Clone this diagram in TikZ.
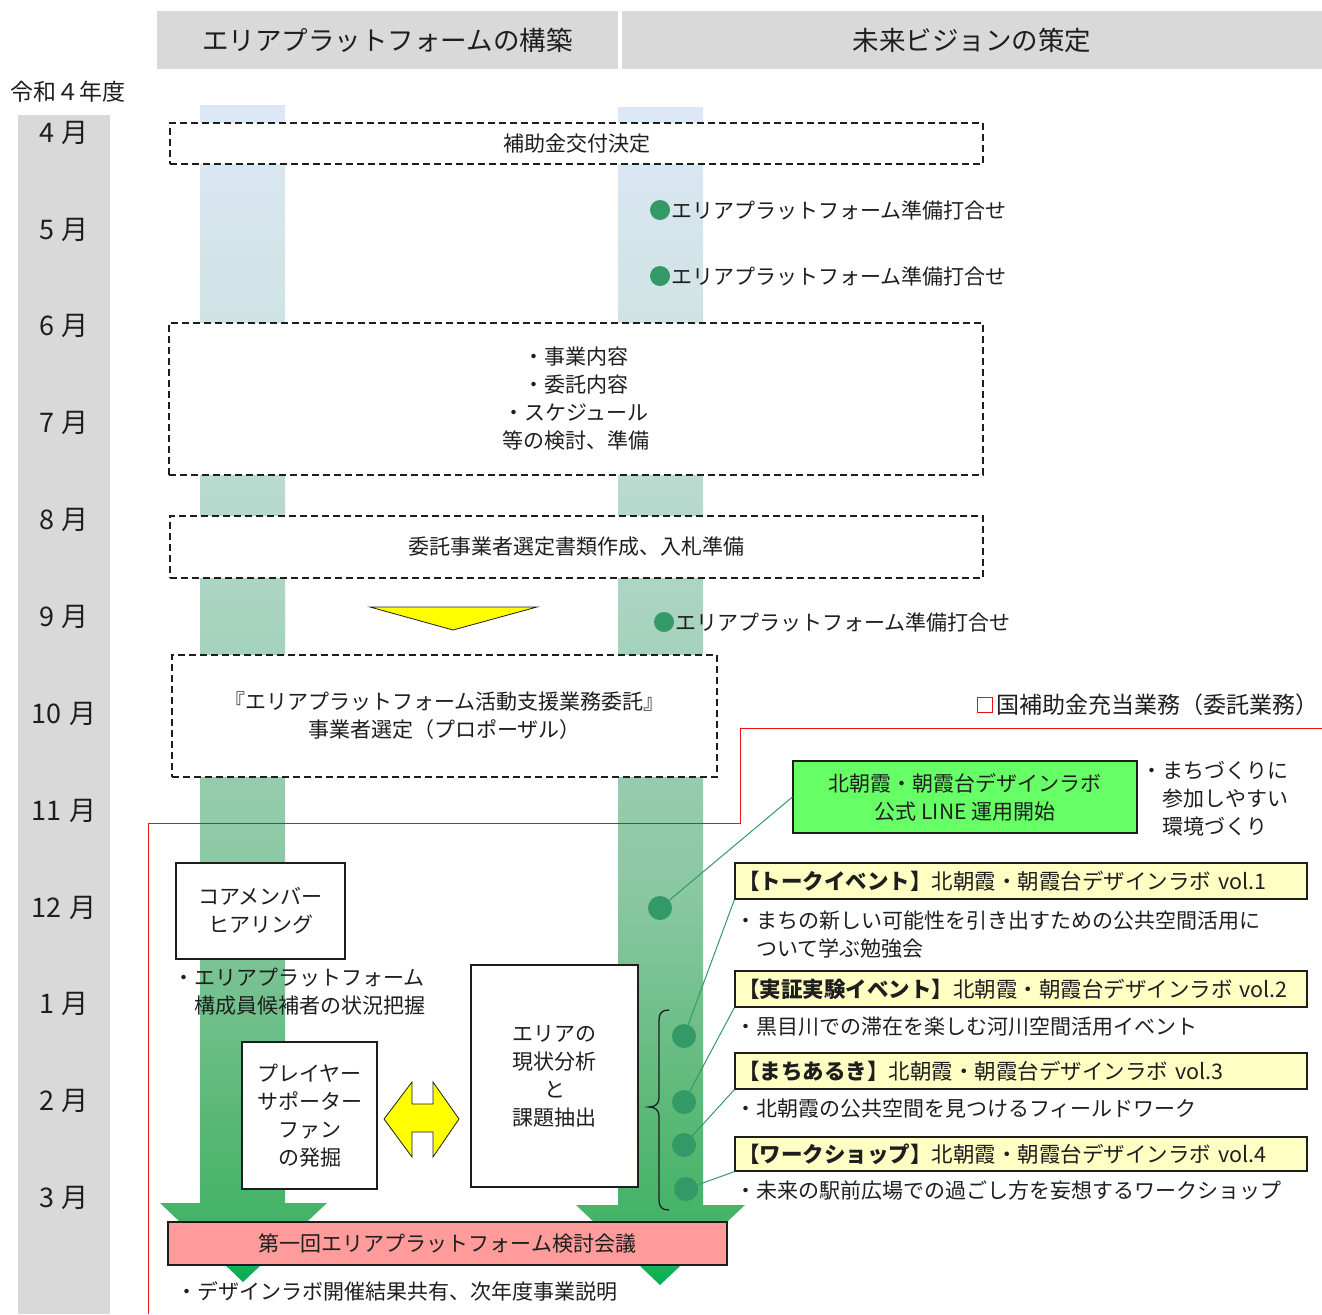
\documentclass[tikz,border=0pt]{standalone}
\usepackage{fontspec}
\setmainfont{Noto Sans CJK JP}
\definecolor{hdr}{HTML}{D9D9D9}
\definecolor{ink}{HTML}{1E1E1E}
\definecolor{cA}{HTML}{DDE8F6}
\definecolor{cB}{HTML}{CFE3E4}
\definecolor{cC}{HTML}{AFD6C6}
\definecolor{cD}{HTML}{88C7A0}
\definecolor{cE}{HTML}{5DB979}
\definecolor{cF}{HTML}{40B265}
\definecolor{cG}{HTML}{00B050}
\definecolor{dotg}{HTML}{339966}
\definecolor{lgreen}{HTML}{66FF66}
\definecolor{lyellow}{HTML}{FFFFC4}
\definecolor{pinkc}{HTML}{FF9B9B}
\definecolor{redl}{HTML}{EE1111}
\definecolor{yel}{HTML}{FFFF00}
\pgfdeclareverticalshading{colshade}{100bp}{color(0bp)=(cG); color(25bp)=(cG); color(27bp)=(cF); color(32.7bp)=(cE); color(41.2bp)=(cD); color(55.7bp)=(cC); color(65.9bp)=(cB); color(75bp)=(cA); color(100bp)=(cA)}
\begin{document}
\begin{tikzpicture}[x=1pt,y=-1pt,
  base/.style={font=\fontsize{21}{28}\selectfont, text=ink, inner sep=0pt},
  hdrbox/.style={base, fill=hdr, font=\fontsize{26.5}{30}\selectfont},
  month/.style={base, font=\fontsize{27}{30}\selectfont},
  dbox/.style={base, draw=ink, fill=white, line width=1.4pt, dash pattern=on 7pt off 4pt, align=center},
  sbox/.style={base, draw=ink, fill=white, line width=1.2pt, align=center},
  ybox/.style={base, draw=ink, fill=lyellow, line width=1.2pt, minimum width=572pt, minimum height=36pt, text width=566pt, inner xsep=3pt, align=left, font=\fontsize{21.5}{28}\selectfont},
  gdot/.style={circle, fill=dotg, inner sep=0pt},
  link/.style={dotg, line width=1pt},
  yshape/.style={fill=yel, draw=ink, line width=0.8pt, line join=miter}
]
\useasboundingbox (0,0) rectangle (1322,1314);
% month column
\fill[hdr] (18,115) rectangle (110,1314);
\node[hdrbox, minimum width=461pt, minimum height=58pt] (h1) at (387.5,40) {エリアプラットフォームの構築};
\node[hdrbox, minimum width=700pt, minimum height=58pt] (h2) at (972,40) {未来ビジョンの策定};
\node[base, font=\fontsize{23}{28}\selectfont] (year) at (68,92) {令和４年度};
\foreach \m/\yy [count=\i] in {4\hspace{7pt}月/133, 5\hspace{7pt}月/230, 6\hspace{7pt}月/326, 7\hspace{7pt}月/423, 8\hspace{7pt}月/520, 9\hspace{7pt}月/617, 10\hspace{8pt}月/714, 11\hspace{8pt}月/811, 12\hspace{8pt}月/908, 1\hspace{7pt}月/1004, 2\hspace{7pt}月/1101, 3\hspace{7pt}月/1198}
  \node[month] (m\i) at (64,\yy) {\m};
% gradient columns
\shade[shading=colshade] (200,105) -- (285,105) -- (285,1203) -- (327,1203) -- (243,1282) -- (160,1203) -- (200,1203) -- cycle;
\shade[shading=colshade] (618,107) -- (703,107) -- (703,1205) -- (745,1205) -- (660,1285) -- (576,1205) -- (618,1205) -- cycle;
% red frame
\draw[redl, line width=1pt] (1322,728) -| (740,823) -| (148,1314);
% dashed boxes
\node[dbox, minimum width=813pt, minimum height=41pt] (b1) at (576.5,143.5) {補助金交付決定};
\node[dbox, minimum width=814pt, minimum height=152pt] (b2) at (576,399) {・事業内容\\・委託内容\\・スケジュール\\等の検討、準備};
\node[dbox, minimum width=813pt, minimum height=62pt] (b3) at (576.5,547) {委託事業者選定書類作成、入札準備};
\draw[yshape] (370,607) -- (537,607) -- (453,630) -- cycle;
\node[dbox, minimum width=545pt, minimum height=122pt] (b4) at (444.5,716) {『エリアプラットフォーム活動支援業務委託』\\事業者選定（プロポーザル）};
% meetings
\node[gdot, minimum size=20pt] (p1) at (660,210) {};
\node[base, anchor=west] (t1) at (671,210) {エリアプラットフォーム準備打合せ};
\node[gdot, minimum size=20pt] (p2) at (660,276) {};
\node[base, anchor=west] (t2) at (671,276) {エリアプラットフォーム準備打合せ};
\node[gdot, minimum size=20pt] (p3) at (664,622) {};
\node[base, anchor=west] (t3) at (675,622) {エリアプラットフォーム準備打合せ};
% legend
\node[draw=redl, line width=1.5pt, minimum size=15pt, inner sep=0pt] (lg) at (985,705) {};
\node[base, font=\fontsize{23}{28}\selectfont, anchor=west] (lgt) at (996,705) {国補助金充当業務（委託業務）};
% design lab
\node[sbox, fill=lgreen, minimum width=344pt, minimum height=72pt] (g1) at (965,797) {北朝霞・朝霞台デザインラボ\\公式 LINE 運用開始};
\node[base, anchor=west, align=left] (g1t) at (1141,799) {・まちづくりに\\\phantom{・}参加しやすい\\\phantom{・}環境づくり};
\node[ybox] (y1) at (1021,881) {\textbf{【トークイベント】}北朝霞・朝霞台デザインラボ vol.1};
\node[base, anchor=west, align=left] (y1t) at (735,935) {・まちの新しい可能性を引き出すための公共空間活用に\\\phantom{・}ついて学ぶ勉強会};
\node[ybox] (y2) at (1021,989) {\textbf{【実証実験イベント】}北朝霞・朝霞台デザインラボ vol.2};
\node[base, anchor=west] (y2t) at (735,1027) {・黒目川での滞在を楽しむ河川空間活用イベント};
\node[ybox] (y3) at (1021,1071) {\textbf{【まちあるき】}北朝霞・朝霞台デザインラボ vol.3};
\node[base, anchor=west] (y3t) at (735,1109) {・北朝霞の公共空間を見つけるフィールドワーク};
\node[ybox, minimum height=34pt] (y4) at (1021,1154) {\textbf{【ワークショップ】}北朝霞・朝霞台デザインラボ vol.4};
\node[base, anchor=west] (y4t) at (735,1190) {・未来の駅前広場での過ごし方を妄想するワークショップ};
% dots on right column
\node[gdot, minimum size=24pt] (d0) at (660,908) {};
\node[gdot, minimum size=24pt] (d1) at (684,1036) {};
\node[gdot, minimum size=24pt] (d2) at (684,1102) {};
\node[gdot, minimum size=24pt] (d3) at (684,1145) {};
\node[gdot, minimum size=24pt] (d4) at (686,1189) {};
\draw[link] (d0) -- (g1.west);
\draw[link] (d1) -- (y1.south west);
\draw[link] (d2) -- (y2.south west);
\draw[link] (d3) -- (y3.south west);
\draw[link] (d4) -- (y4.south west);
% brace
\draw[ink, line width=1.3pt] (669,1010) .. controls (662,1010) and (659,1013) .. (659,1020) -- (659,1098) .. controls (659,1104) and (655,1107) .. (649,1107) .. controls (655,1107) and (659,1110) .. (659,1116) -- (659,1200) .. controls (659,1207) and (662,1210) .. (669,1210);
% left boxes
\node[sbox, minimum width=169pt, minimum height=96pt] (c1) at (260.5,911) {コアメンバー\\ヒアリング};
\node[base, anchor=west, align=left] (c1t) at (173,991.5) {・エリアプラットフォーム\\\phantom{・}構成員候補者の状況把握};
\node[sbox, minimum width=135pt, minimum height=147pt] (c2) at (309.5,1115.5) {プレイヤー\\サポーター\\ファン\\の発掘};
\node[sbox, minimum width=167pt, minimum height=222pt] (c3) at (554.5,1076) {エリアの\\現状分析\\と\\課題抽出};
\draw[yshape] (384,1119) -- (412,1082) -- (412,1104) -- (433,1104) -- (433,1082) -- (459,1119) -- (433,1157) -- (433,1132) -- (412,1132) -- (412,1157) -- cycle;
% meeting
\node[sbox, fill=pinkc, minimum width=559pt, minimum height=43pt] (k1) at (447.5,1243.5) {第一回エリアプラットフォーム検討会議};
\node[base, anchor=west] (k1t) at (176,1291) {・デザインラボ開催結果共有、次年度事業説明};
\end{tikzpicture}
\end{document}
